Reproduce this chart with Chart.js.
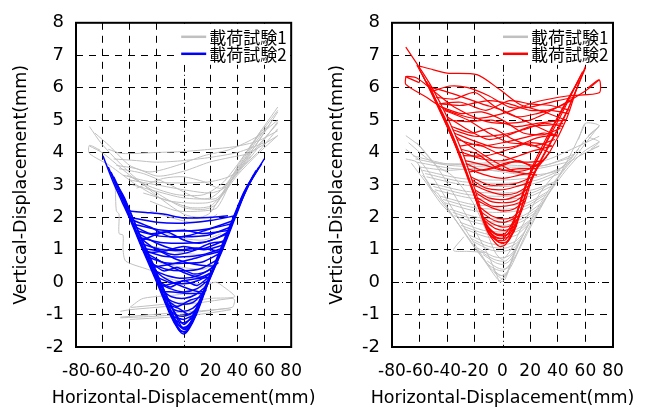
<!DOCTYPE html>
<html>
<head>
<meta charset="utf-8">
<script src="https://cdn.jsdelivr.net/npm/chart.js@4.4.1/dist/chart.umd.min.js"></script>
<style>
  html, body { margin: 0; padding: 0; background: #fff; }
  #wrap { position: relative; width: 646px; height: 410px; }
  canvas { position: absolute; top: 0; }
  #left { left: 0; }
  #right { left: 316px; }
</style>
</head>
<body>
<div id="wrap">
  <canvas id="left" width="316" height="410"></canvas>
  <canvas id="right" width="330" height="410"></canvas>
</div>
<script>
// Axis ticks, titles and legend names
const xTicks = [-80, -60, -40, -20, 0, 20, 40, 60, 80];
const yTicks = [-2, -1, 0, 1, 2, 3, 4, 5, 6, 7, 8];
const xTitle = "Horizontal-Displacement(mm)";
const yTitle = "Vertical-Displacement(mm)";
const seriesNames = ["載荷試験1", "載荷試験2"];

// Left panel, test 1 (gray) - traces, [x, y]
const test1Left = [
  [[-70,4.8],[-61,4.27],[-42,3.45],[-20,2.67],[0,2.1],[12,2.0],[20,2.15],[35,3.2],[48,4.1],[70,5.4]],
  [[-70,4.2],[-60,3.98],[-40,3.3],[-20,2.75],[0,2.3],[16,2.25],[24,2.4],[38,3.3],[52,4.05],[70,4.9]],
  [[-62,4.07],[-70,4.22],[-70,3.97],[-55,3.6],[-35,3.0],[-15,2.55],[0,2.45],[18,2.45],[27,2.6],[40,3.3],[55,3.95],[70,4.52]],
  [[-56,4.1],[-46,3.97],[-20,4.0],[0,4.03],[20,4.1],[38,4.18],[55,4.35],[70,4.67]],
  [[-50,3.6],[-35,3.5],[-19,3.27],[0,3.42],[19,3.7],[35,3.85],[48,3.97],[70,4.52]],
  [[-45,3.3],[-25,3.1],[0,3.06],[20,3.1],[36,3.3],[55,4.0],[70,4.73]],
  [[-40,3.15],[-20,3.0],[0,2.85],[20,2.75],[30,2.9],[45,3.6],[60,4.4],[70,4.95]],
  [[-48,3.5],[-30,3.35],[-10,3.0],[10,2.6],[25,2.6],[40,3.4],[58,4.5],[66,5.0]],
  [[-35,2.9],[-15,3.2],[0,3.25],[15,3.1],[28,2.9],[40,3.5],[55,4.3],[70,5.25]],
  [[-30,2.75],[-10,2.5],[5,2.3],[20,2.35],[32,2.9],[50,4.1],[62,4.8]],
  [[-66,4.6],[-55,4.2],[-40,3.6],[-25,3.4],[-5,3.6],[15,3.9],[35,4.1],[55,4.5],[70,5.0]],
  [[-52,3.8],[-35,3.75],[-20,3.7],[0,3.75],[20,3.85],[40,4.0],[60,4.3]],
  [[-42,3.3],[-25,2.95],[-5,2.7],[15,2.7],[30,3.1],[50,4.2],[70,5.3]],
  [[-38,3.0],[-20,2.8],[0,2.6],[20,2.6],[34,3.1],[50,3.9]],
  [[-25,2.5],[-5,2.2],[15,2.2],[25,2.3],[38,3.35],[58,4.7]],
  [[-25,2.2],[-10,2.0],[5,1.85],[18,1.9],[25,2.1]],
  [[-20,1.6],[0,1.35],[15,1.3],[28,1.5]],
  [[-22,1.1],[0,0.9],[18,0.85],[27,1.0]],
  [[-18,0.6],[0,0.45],[15,0.4],[22,0.55]],
  [[-15,0.15],[0,0.0],[12,-0.05],[18,0.1]],
  [[-53,3.35],[-51,3.0],[-50,2.2],[-48,2.1],[-48,1.5],[-45,1.45],[-45,1.0],[-43,0.65],[-27,0.4],[-20,0.3]],
  [[-40,-0.78],[-30,-0.5],[0,-0.36],[23.5,0.0],[29,-0.12],[38,-0.45],[20,-0.5],[0,-0.62],[-39,-0.78]],
  [[-47,-0.9],[-40,-0.85],[0,-0.7],[36,-0.5],[38,-0.55],[36,-0.78],[0,-0.92],[-47,-1.08]],
  [[-47,-1.1],[-20,-1.05],[0,-0.98],[30,-0.82],[35,-0.85],[0,-1.05],[-40,-1.15]]
];

// Left panel, test 2 (blue)
const test2Left = [
  [[-60,3.9],[-52,3.05],[-46,2.5],[-40.5,2.0],[-30.5,1.0],[-20,0],[-10,-1],[-4,-1.45],[0,-1.6],[4,-1.45],[9.5,-1.0],[18.5,0],[29,1.0],[38.5,2.0],[48,3.0],[54,3.4],[60,3.8]],
  [[-56,3.55],[-50,2.95],[-44,2.4],[-39,1.9],[-29,0.9],[-19,0],[-9,-1],[-3,-1.45],[1,-1.55],[5,-1.3],[10,-0.85],[19,0.1],[29,1.05],[38,2.0],[46,2.8],[56,3.55]],
  [[-52,3.25],[-47,2.8],[-42,2.3],[-37,1.75],[-27,0.8],[-17,-0.1],[-8,-1.0],[-2,-1.4],[2,-1.45],[6,-1.2],[11,-0.7],[20,0.25],[30,1.2],[37,1.95],[44,2.6],[52,3.3]],
  [[-50,3.05],[-44,2.6],[-39,2.1],[-34,1.6],[-25,0.7],[-15,-0.2],[-7,-0.9],[0,-1.3],[7,-1.0],[13,-0.45],[21,0.35],[30,1.3],[36,1.9],[42,2.5],[48,3.0]],
  [[-46,2.75],[-40,2.2],[-33,1.5],[-22,0.5],[-12,-0.5],[-5,-1.1],[0,-1.45],[5,-1.25],[12,-0.6],[22,0.4],[31,1.35],[38,2.05],[46,2.85],[58,3.65]],
  [[-54,3.4],[-47,2.75],[-41,2.15],[-32,1.25],[-21,0.2],[-11,-0.85],[-3,-1.5],[2,-1.5],[8,-1.1],[17,-0.15],[27,0.85],[36,1.8],[44,2.7],[54,3.45]],
  [[-6.5,-1.2],[-3,-1.35],[0,-1.4],[3,-1.35],[6,-1.2]],
  [[-10,-1.0],[-5,-1.2],[0,-1.25],[4,-1.18],[9.5,-1.0]],
  [[-12,-0.8],[-6,-1.0],[0,-1.05],[6,-0.95],[11.5,-0.72]],
  [[-14,-0.6],[-7,-0.85],[0,-0.9],[7,-0.8],[13,-0.55]],
  [[-16,-0.4],[-8,-0.6],[0,-0.68],[8,-0.6],[15.5,-0.25]],
  [[-18,-0.2],[-9,-0.45],[1,-0.5],[9,-0.38],[17.5,-0.1]],
  [[-20,0],[-10,-0.2],[0,-0.3],[10,-0.2],[19.5,0.1]],
  [[-22,0.2],[-11,0.0],[0,-0.05],[11,0.05],[21.5,0.3]],
  [[-24,0.4],[-12,0.2],[0,0.12],[12,0.22],[23.5,0.5]],
  [[-26,0.6],[-13,0.4],[0,0.35],[13,0.42],[25.5,0.7]],
  [[-28,0.8],[-14,0.6],[0,0.58],[14,0.62],[27.5,0.9]],
  [[-30.5,1.0],[-15,0.8],[0,0.78],[15,0.85],[29,1.05]],
  [[-32.5,1.2],[-16,1.0],[0,0.98],[16,1.05],[31,1.3]],
  [[-34.5,1.4],[-17,1.22],[0,1.2],[17,1.25],[33,1.5]],
  [[-36.5,1.6],[-18,1.42],[0,1.4],[18,1.45],[35,1.7]],
  [[-38.5,1.8],[-19,1.62],[0,1.58],[19,1.65],[37,1.9]],
  [[-40.5,2.0],[-20,1.85],[0,1.82],[20,1.9],[38.5,2.05]],
  [[-42.5,2.2],[-28,2.15],[-15,2.1],[0,1.98],[20,2.0],[33,2.05]],
  [[-30,0.95],[-15,0.6],[0,0.3],[12,0.15],[21,0.3]],
  [[-24,0.45],[-10,0.55],[5,0.7],[18,0.85],[28,0.95]],
  [[-36,1.55],[-20,1.2],[-5,1.0],[10,1.05],[27,0.95]],
  [[-18,-0.15],[-5,0.0],[8,0.1],[20,0.15]],
  [[-33,1.25],[-18,1.5],[0,1.6],[15,1.5],[34,1.6]],
  [[-38,1.75],[-25,1.5],[-12,1.55],[0,1.3],[12,1.2],[24,1.35],[33,1.55]],
  [[-27,0.7],[-15,0.35],[-5,0.45],[8,0.25],[18,0.35],[25,0.6]],
  [[-21,0.1],[-10,-0.15],[0,0.05],[10,-0.1],[20,0.2]],
  [[-15,-0.45],[-5,-0.75],[5,-0.55],[14,-0.45]],
  [[-13,-0.7],[-4,-0.8],[4,-1.0],[11,-0.8]],
  [[-9,-1.05],[0,-1.15],[6,-1.05],[8,-1.1]],
  [[-35,1.45],[-22,1.05],[-8,0.85],[6,0.95],[20,1.2],[31,1.25]],
  [[-31,1.05],[-18,0.95],[-5,0.7],[8,0.55],[22,0.5],[26,0.6]],
  [[-25,0.5],[-15,0.15],[0,-0.15],[12,-0.3],[17,-0.25]],
  [[-40,1.95],[-25,1.7],[-10,1.4],[5,1.45],[20,1.65],[36,1.8]],
  [[-29,0.9],[-15,0.95],[0,1.1],[15,1.0],[30,1.15]],
  [[-17,-0.3],[-8,-0.3],[3,-0.35],[16,-0.35]]
];

// Right panel, test 1 (gray)
const test1Right = [
  [[-70,4.52],[-60,4.2],[-52,3.8],[-45,3.4],[-35,2.7],[-20,1.6],[-10,0.8],[-4,0.2],[-2,0],[2,0.1],[9,0.95],[21.4,1.95],[38,3.06],[50,4.0],[60,4.9]],
  [[-70,4.1],[-60,3.75],[-50,3.2],[-36,2.25],[-19,1.1],[-8,0.4],[-1,0.2],[5,0.4],[12,1.0],[24,2.0],[40,3.2],[55,4.0],[70,4.83]],
  [[-70,3.8],[-62,3.7],[-54,3.05],[-37,2.1],[-20,1.05],[-9,0.5],[0,0.35],[8,0.7],[17,1.5],[30,2.5],[45,3.4],[58,4.0],[70,4.33]],
  [[-62,4.3],[-48,3.6],[-36,3.27],[-21.3,2.45],[-12,1.6],[-5,0.9],[0,0.7],[6,1.0],[15,1.8],[28,2.8],[42,3.5],[56,3.9],[70,4.2]],
  [[-66,3.67],[-55,3.05],[-45,2.45],[-35.5,2.0],[-18.5,1.0],[-8,0.35],[-2,0.05],[4,0.35],[10,1.0],[20,1.9],[36,3.0],[48,3.7],[60,4.4],[70,4.8]],
  [[-58,3.3],[-55,3.15],[-53.5,3.06],[-51,2.85],[-47,2.75],[-44,2.55],[-42,2.45],[-39,2.25],[-32,1.8]],
  [[-28,1.4],[-35.5,0.98],[-25,0.95],[-12,0.92]],
  [[-7,0.4],[-3,0.25],[0,0.2],[3,0.25],[5,0.5]],
  [[-11,0.65],[-4,0.45],[0,0.4],[4,0.45],[7.5,0.75]],
  [[-14,0.85],[-5,0.6],[0,0.55],[5,0.65],[10,1.0]],
  [[-18,1.05],[-7,0.8],[0,0.75],[6,0.85],[12,1.2]],
  [[-21,1.25],[-9,1.0],[0,0.95],[8,1.05],[14,1.35]],
  [[-24,1.45],[-10,1.2],[0,1.15],[9,1.25],[16,1.55]],
  [[-28,1.65],[-12,1.4],[0,1.35],[10,1.45],[18,1.75]],
  [[-31,1.85],[-14,1.6],[0,1.55],[11,1.65],[21,1.95]],
  [[-35,2.05],[-16,1.8],[0,1.75],[13,1.85],[24,2.15]],
  [[-38,2.25],[-18,2.0],[0,1.95],[15,2.05],[27,2.4]],
  [[-42,2.45],[-20,2.2],[0,2.15],[16,2.25],[30,2.6]],
  [[-45,2.65],[-22,2.4],[0,2.35],[18,2.45],[33,2.8]],
  [[-49,2.85],[-24,2.6],[0,2.55],[20,2.65],[35,2.95]],
  [[-52,3.05],[-26,2.8],[0,2.75],[22,2.85],[38,3.1]],
  [[-55,3.25],[-28,3.0],[0,2.95],[24,3.05],[41,3.35]],
  [[-58,3.45],[-30,3.2],[0,3.15],[25,3.25],[44,3.55]],
  [[-62,3.7],[-35,3.5],[0,3.45],[25,3.5],[47,3.7]],
  [[-65,3.9],[-40,3.65],[0,3.62],[30,3.6],[52,3.95]],
  [[-6,0.3],[0,0.1],[4,0.3]],
  [[-16,0.95],[-6,0.7],[2,0.65],[8,0.9],[11,1.1]],
  [[-23,1.35],[-10,1.1],[2,1.05],[10,1.2],[15,1.45]],
  [[-30,1.75],[-13,1.5],[2,1.45],[12,1.6],[19,1.85]],
  [[-36,2.15],[-17,1.9],[2,1.85],[14,1.95],[25,2.25]],
  [[-43,2.55],[-21,2.3],[2,2.25],[17,2.35],[31,2.7]],
  [[-50,2.95],[-25,2.7],[2,2.65],[21,2.75],[36,3.05]],
  [[-56,3.35],[-29,3.1],[2,3.05],[25,3.15],[42,3.45]],
  [[-63,3.8],[-38,3.6],[0,3.55],[28,3.58],[50,3.85]],
  [[-60,3.55],[-40,3.45],[-20,3.5],[0,3.4],[20,3.3],[40,3.45],[55,4.1]],
  [[-68,4.3],[-50,3.7],[-30,3.65],[0,3.7],[30,3.75],[50,4.1],[70,4.5]],
  [[55,4.4],[60,4.9],[70,4.83],[62,4.5],[70,4.33],[64,4.1],[70,4.2]]
];

// Right panel, test 2 (red)
const test2Right = [
  [[-70,7.25],[-60.6,6.65],[-51,6.0],[-39,5.0],[-29,4.0],[-21,3.0],[-14,2.0],[-10,1.5],[-5,1.2],[-2,1.1],[2,1.15],[9,1.64],[12,2.0],[16.5,2.5],[20,3.0],[25,3.5],[34,4.0],[46,5.0],[54,6.0],[60,6.65]],
  [[-62,6.7],[-52,5.9],[-40,4.8],[-30,3.8],[-22,2.9],[-15,2.0],[-10,1.5],[-4,1.3],[2,1.3],[8,1.7],[13,2.2],[19,3.0],[26,3.6],[35,4.3],[45,5.1],[52,5.8],[60,6.6]],
  [[-58,6.4],[-50,5.7],[-38,4.6],[-28,3.6],[-20,2.7],[-13,1.9],[-6,1.4],[0,1.35],[6,1.6],[12,2.3],[18,3.1],[24,3.7],[33,4.4],[43,5.2],[50,5.8],[58,6.5]],
  [[-55,6.2],[-47,5.5],[-36,4.5],[-27,3.5],[-19,2.5],[-12,1.8],[-5,1.5],[2,1.5],[9,2.0],[15,2.8],[22,3.6],[30,4.3],[40,5.1],[48,5.7],[55,6.2]],
  [[-60,6.55],[-50,5.75],[-42,5.1],[-33,4.2],[-25,3.3],[-17,2.3],[-11,1.65],[-3,1.25],[3,1.25],[10,1.8],[15,2.5],[21,3.2],[28,3.8],[37,4.5],[47,5.3],[56,6.2]],
  [[-53,6.1],[-45,5.3],[-35,4.3],[-26,3.3],[-18,2.4],[-11,1.7],[-4,1.45],[3,1.45],[8,1.85],[14,2.6],[21,3.4],[29,4.1],[38,4.9],[47,5.6],[57,6.4]],
  [[-60.6,6.67],[-50,6.55],[-40,6.45],[-18.5,6.4],[-2,5.94],[12.7,5.48],[30,5.25],[46,5.0]],
  [[-60,6.15],[-70,6.34],[-62,6.3],[-50,5.9],[-35,5.4],[-15,5.0],[0,4.9],[20,5.0],[40,5.4],[60,5.9],[70,6.24]],
  [[-70,6.34],[-70,6.1],[-55,5.7],[-40,5.3],[-20,5.05],[0,5.2],[23.5,5.55],[48,5.75],[70,5.84],[70,6.24],[62,6.0]],
  [[-51,6.0],[-35,5.8],[-15,5.5],[0,5.3],[15,5.0],[30,4.7],[40,4.5]],
  [[-45,5.5],[-30,5.45],[-10,5.6],[5,5.5],[20,5.3],[35,5.3],[48,5.2]],
  [[-42,5.3],[-25,5.0],[-10,4.6],[5,4.3],[20,4.25],[34,4.0]],
  [[-39,5.0],[-25,4.95],[-8,5.0],[10,4.8],[25,4.9],[46,5.0]],
  [[-36,4.7],[-20,4.5],[0,4.55],[15,4.7],[30,4.9],[44,4.8]],
  [[-33,4.4],[-15,4.2],[0,4.3],[15,4.45],[30,4.6],[40,4.5]],
  [[-31,4.2],[-18,4.25],[-5,4.0],[10,3.75],[25,3.6],[34,4.0]],
  [[-29,4.0],[-15,3.8],[0,3.75],[12,3.9],[22,4.05],[36,4.2]],
  [[-27,3.75],[-12,3.6],[0,3.45],[12,3.5],[25,3.5]],
  [[-25,3.5],[-12,3.3],[0,3.2],[12,3.3],[24,3.4]],
  [[-23,3.25],[-10,3.0],[0,3.0],[10,3.05],[22,3.25]],
  [[-21,3.0],[-10,2.8],[0,2.7],[10,2.75],[20,3.0]],
  [[-19,2.75],[-9,2.5],[0,2.45],[9,2.5],[18,2.75]],
  [[-17.5,2.5],[-8,2.3],[0,2.2],[8,2.25],[16.5,2.5]],
  [[-16,2.3],[-8,2.05],[0,1.95],[7,2.0],[14,2.25]],
  [[-14,2.0],[-7,1.8],[0,1.7],[6,1.75],[12,2.0]],
  [[-12,1.75],[-6,1.5],[0,1.45],[5,1.5],[10.5,1.75]],
  [[-10,1.5],[-5,1.3],[-1,1.2],[4,1.25],[9,1.64]],
  [[-34,4.5],[-20,4.1],[-5,3.7],[10,3.4],[25,3.3]],
  [[-28,3.9],[-12,3.9],[5,4.1],[20,4.3],[36,4.2]],
  [[-24,3.4],[-10,3.5],[5,3.7],[20,3.7],[30,3.75]],
  [[-48,5.7],[-35,5.65],[-20,5.85],[-5,5.4],[10,5.1],[25,5.2],[40,5.4],[50,5.6]],
  [[-44,5.4],[-30,5.2],[-15,5.25],[0,5.0],[15,4.6],[30,4.55],[42,4.75]],
  [[-40,5.1],[-25,4.7],[-10,4.4],[5,4.55],[20,4.8],[35,4.85],[44,4.9]],
  [[-37,4.8],[-22,4.6],[-8,4.75],[8,4.4],[22,4.2],[38,4.4]],
  [[-35,4.6],[-20,4.35],[-5,4.15],[10,4.2],[25,4.45],[40,4.55]],
  [[-30,4.1],[-18,3.95],[-5,3.55],[8,3.4],[20,3.5],[32,3.85]],
  [[-26,3.65],[-14,3.45],[0,3.6],[12,3.75],[22,3.55],[27,3.65]],
  [[-22,3.15],[-12,2.9],[0,2.85],[10,2.95],[21,3.1]],
  [[-20,2.85],[-10,2.6],[2,2.55],[12,2.7],[19,2.9]],
  [[-18,2.6],[-8,2.35],[3,2.35],[12,2.45],[17,2.6]],
  [[-15,2.15],[-6,1.9],[2,1.85],[10,2.0],[13,2.1]],
  [[-13,1.9],[-5,1.65],[2,1.6],[8,1.7],[11,1.85]],
  [[-11,1.6],[-5,1.4],[1,1.35],[6,1.45],[9,1.6]],
  [[-46,5.5],[-30,5.55],[-12,5.3],[5,5.6],[20,5.5],[35,5.45],[49,5.3]],
  [[-50,5.9],[-38,6.05],[-25,6.0],[-10,5.75],[5,5.4],[20,5.4],[40,5.6],[52,5.7]]
];

const GRAY = "#c0c0c0";
const BLUE = "#0000ff";
const RED = "#ff0000";
const FONT = "'DejaVu Sans', sans-serif";

function loopSets(loops, color, width, order) {
  return loops.map((pts) => ({
    data: pts.map(([x, y]) => ({ x, y })),
    borderColor: color,
    borderWidth: width,
    showLine: true,
    pointRadius: 0,
    tension: 0.25,
    fill: false,
    order: order,
  }));
}

// zero lines (dash-dot), box, x title and the in-plot legend
const panelDecor = {
  id: "panelDecor",
  beforeDatasetsDraw(chart) {
    const { ctx, chartArea: a, scales: { x, y } } = chart;
    ctx.save();
    ctx.strokeStyle = "#000";
    ctx.lineWidth = 1;
    ctx.setLineDash([7, 3, 1, 3]);
    const x0 = Math.round(x.getPixelForValue(0)) + 0.5;
    const y0 = Math.round(y.getPixelForValue(0)) + 0.5;
    ctx.beginPath();
    ctx.moveTo(x0, a.top); ctx.lineTo(x0, a.bottom);
    ctx.moveTo(a.left, y0); ctx.lineTo(a.right, y0);
    ctx.stroke();
    ctx.restore();
  },
  afterDatasetsDraw(chart, args, opts) {
    const { ctx, chartArea: a } = chart;
    ctx.save();
    ctx.fillStyle = "#fff";
    ctx.fillRect(a.right - 114, a.top + 1, 113, 41);
    const rows = [[seriesNames[0], GRAY], [seriesNames[1], opts.color]];
    ctx.font = '17px "Noto Sans CJK JP"';
    ctx.textBaseline = "middle";
    rows.forEach(([name, color], i) => {
      const ly = a.top + 14 + i * 17;
      ctx.strokeStyle = color;
      ctx.lineWidth = 2.5;
      ctx.beginPath();
      ctx.moveTo(a.right - 110, ly);
      ctx.lineTo(a.right - 85, ly);
      ctx.stroke();
      ctx.fillStyle = "#000";
      ctx.fillText(name, a.right - 82, ly + 1);
    });
    ctx.strokeStyle = "#000";
    ctx.lineWidth = 2;
    ctx.strokeRect(a.left, a.top, a.right - a.left, a.bottom - a.top);

    // x title drawn here so it is not squeezed to the plot width
    ctx.font = "17.5px " + FONT;
    ctx.textAlign = "center";
    ctx.fillText(xTitle, (a.left + a.right) / 2, 398);
    ctx.restore();
  },
};

function makePanel(canvasId, grayLoops, colorLoops, color, rightPad) {
  const ctx = document.getElementById(canvasId).getContext("2d");
  return new Chart(ctx, {
    type: "scatter",
    data: {
      datasets: [
        ...loopSets(colorLoops, color, color === BLUE ? 1.5 : 1.2, 0),
        ...loopSets(grayLoops, GRAY, 1, 1),
      ],
    },
    options: {
      responsive: false,
      animation: false,
      devicePixelRatio: 1,
      events: [],
      layout: { padding: { top: 17, right: rightPad, left: 0, bottom: 0 } },
      plugins: {
        legend: { display: false },
        tooltip: { enabled: false },
        panelDecor: { color: color },
      },
      scales: {
        x: {
          type: "linear",
          min: -80,
          max: 80,
          afterBuildTicks: (s) => { s.ticks = xTicks.map((v) => ({ value: v })); },
          afterFit: (s) => { s.height = 63; },
          grid: {
            drawTicks: false,
            color: (c) => (c.tick && c.tick.value === 0 ? "rgba(0,0,0,0)" : "#000"),
            lineWidth: 1,
          },
          border: { display: false, dash: [7, 6] },
          ticks: {
            autoSkip: false,
            maxRotation: 0,
            minRotation: 0,
            padding: 14,
            color: "#000",
            font: { family: FONT, size: 17 },
          },
          title: { display: false },
        },
        y: {
          type: "linear",
          min: -2,
          max: 8,
          afterBuildTicks: (s) => { s.ticks = yTicks.map((v) => ({ value: v })); },
          afterFit: (s) => { s.width = 76; },
          grid: {
            drawTicks: false,
            color: (c) => (c.tick && c.tick.value === 0 ? "rgba(0,0,0,0)" : "#000"),
            lineWidth: 1,
          },
          border: { display: false, dash: [7, 6] },
          ticks: {
            padding: 12,
            color: "#000",
            font: { family: FONT, size: 18 },
          },
          title: {
            display: true,
            text: yTitle,
            color: "#000",
            font: { family: FONT, size: 17.5 },
            padding: { top: 11, bottom: 0 },
          },
        },
      },
    },
    plugins: [panelDecor],
  });
}

makePanel("left", test1Left, test2Left, BLUE, 19);
makePanel("right", test1Right, test2Right, RED, 33);
</script>
</body>
</html>
